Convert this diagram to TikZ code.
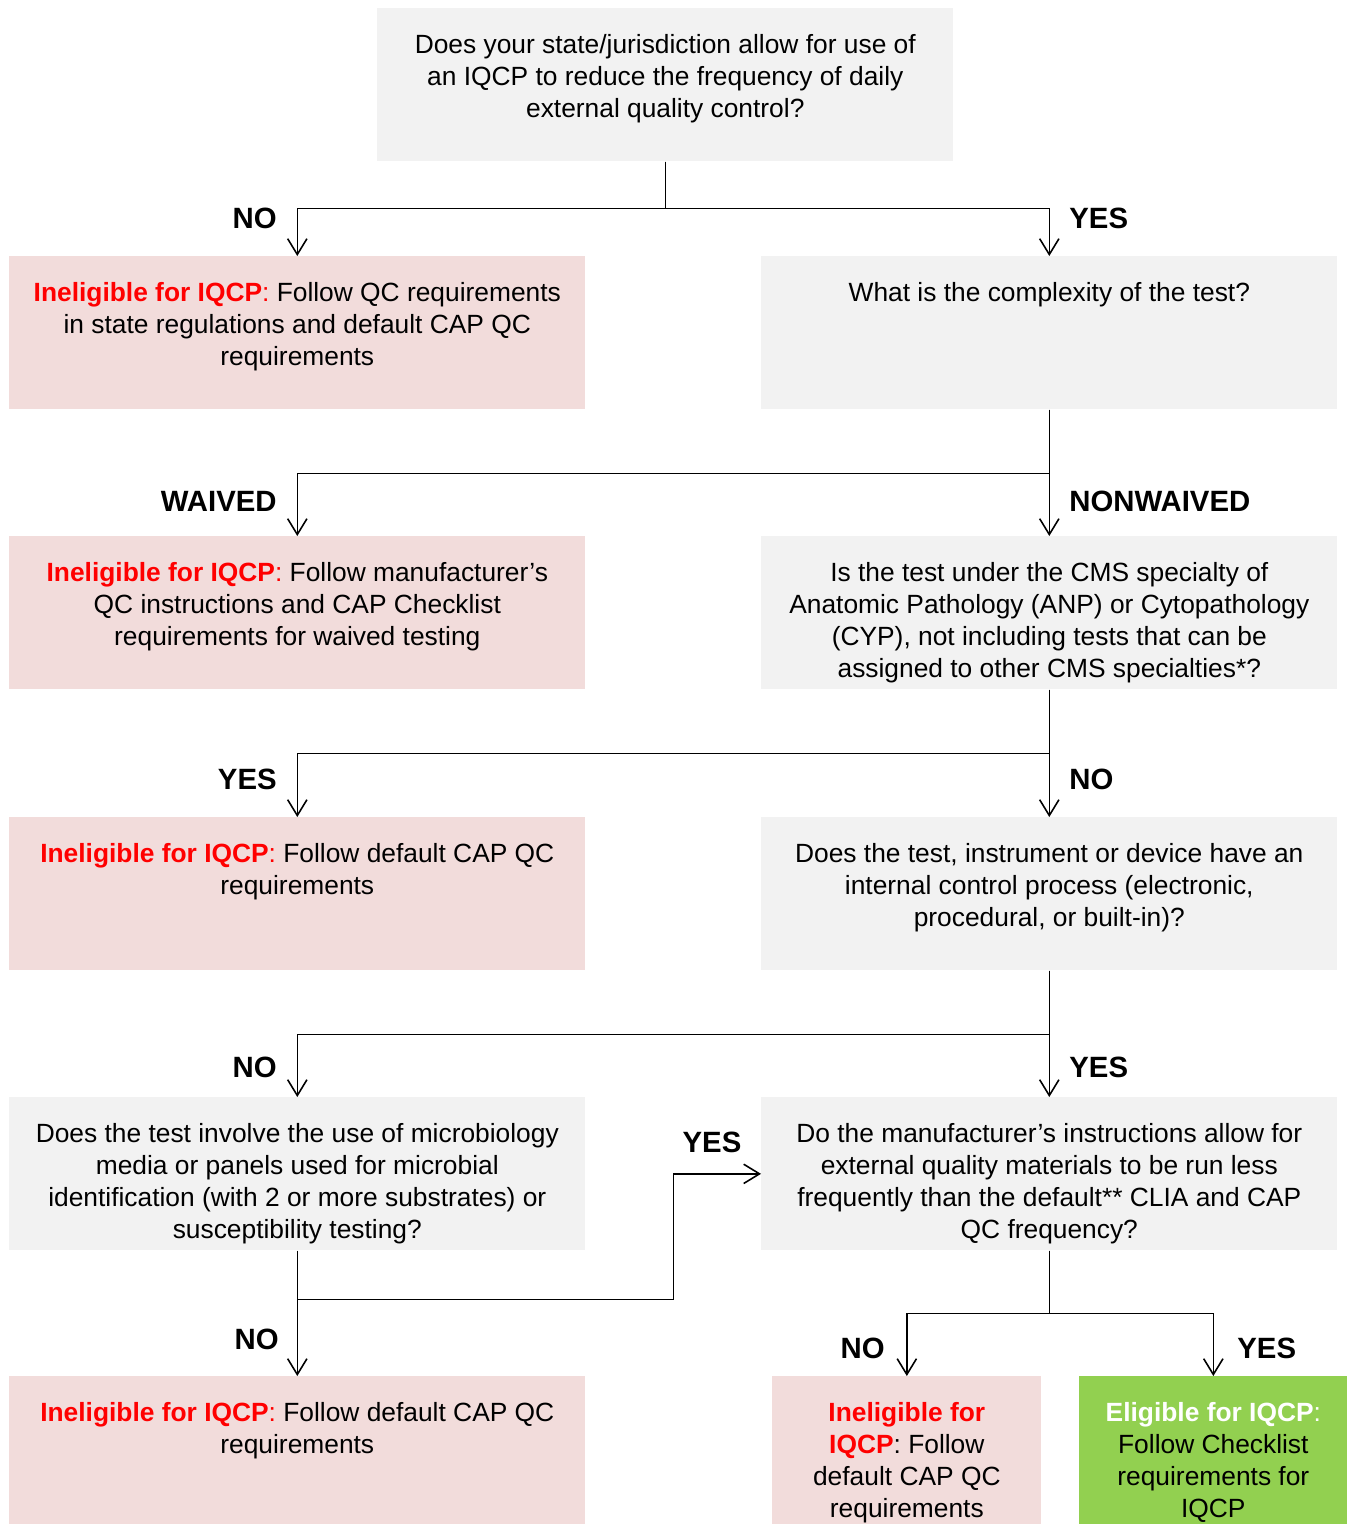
\documentclass[tikz,border=0pt]{standalone}
\usepackage{fontspec}
\setmainfont{Liberation Sans}
\usetikzlibrary{arrows.meta}
\definecolor{qgray}{HTML}{F2F2F2}
\definecolor{npink}{HTML}{F2DCDB}
\definecolor{egreen}{HTML}{92D050}
\newcommand{\boxtxt}[3]{\parbox[c][#2][t]{#1}{\centering\rule{0pt}{0.9cm}#3}}
\newcommand{\inel}{\textcolor{red}{\textbf{Ineligible for IQCP}:}}
\tikzstyle{block}=[anchor=north west, inner sep=0pt, font=\fontsize{15pt}{0.64cm}\selectfont]
\tikzstyle{question}=[block, fill=qgray]
\tikzstyle{nogo}=[block, fill=npink]
\tikzstyle{go}=[block, fill=egreen]
\tikzstyle{answer}=[inner sep=0pt, font=\fontsize{16.7pt}{19pt}\selectfont\bfseries]
\tikzstyle{flow}=[line width=0.9pt, -{Straight Barb[length=9pt, width=11pt]}]

\begin{document}
\begin{tikzpicture}[x=0.02cm, y=-0.02cm]
        \useasboundingbox (0,0) rectangle (1347,1524);
        \node[question] (Q1) at (377, 8)    {\boxtxt{11.52cm}{3.06cm}{Does your state/jurisdiction allow for use of\\an IQCP to reduce the frequency of daily\\external quality control?}};
        \node[nogo]     (N1) at (9, 256)    {\boxtxt{11.52cm}{3.06cm}{\inel{} Follow QC requirements\\in state regulations and default CAP QC\\requirements}};
        \node[question] (Q2) at (761, 256)  {\boxtxt{11.52cm}{3.06cm}{What is the complexity of the test?}};
        \node[nogo]     (N2) at (9, 536)    {\boxtxt{11.52cm}{3.06cm}{\inel{} Follow manufacturer’s\\QC instructions and CAP Checklist\\requirements for waived testing}};
        \node[question] (Q3) at (761, 536)  {\boxtxt{11.52cm}{3.06cm}{Is the test under the CMS specialty of\\Anatomic Pathology (ANP) or Cytopathology\\(CYP), not including tests that can be\\assigned to other CMS specialties*?}};
        \node[nogo]     (N3) at (9, 817)    {\boxtxt{11.52cm}{3.06cm}{\inel{} Follow default CAP QC\\requirements}};
        \node[question] (Q4) at (761, 817)  {\boxtxt{11.52cm}{3.06cm}{Does the test, instrument or device have an\\internal control process (electronic,\\procedural, or built-in)?}};
        \node[question] (Q5) at (9, 1097)   {\boxtxt{11.52cm}{3.06cm}{Does the test involve the use of microbiology\\media or panels used for microbial\\identification (with 2 or more substrates) or\\susceptibility testing?}};
        \node[question] (Q6) at (761, 1097) {\boxtxt{11.52cm}{3.06cm}{Do the manufacturer’s instructions allow for\\external quality materials to be run less\\frequently than the default** CLIA and CAP\\QC frequency?}};
        \node[nogo]     (N4) at (9, 1376)   {\boxtxt{11.52cm}{2.96cm}{\inel{} Follow default CAP QC\\requirements}};
        \node[nogo]     (N5) at (772, 1376) {\boxtxt{5.38cm}{2.96cm}{\textcolor{red}{\textbf{Ineligible for}}\\\textcolor{red}{\textbf{IQCP}}: Follow\\default CAP QC\\requirements}};
        \node[go]       (E1) at (1079, 1376) {\boxtxt{5.36cm}{2.96cm}{\textcolor{white}{\textbf{Eligible for IQCP}:}\\Follow Checklist\\requirements for\\IQCP}};
        \node[answer, anchor=east] (A1) at (277, 218)  {NO};
        \node[answer, anchor=west] (A2) at (1069, 218) {YES};
        \node[answer, anchor=east] (A3) at (277, 501)  {WAIVED};
        \node[answer, anchor=west] (A4) at (1069, 501) {NONWAIVED};
        \node[answer, anchor=east] (A5) at (277, 779)  {YES};
        \node[answer, anchor=west] (A6) at (1069, 779) {NO};
        \node[answer, anchor=east] (A7) at (277, 1067) {NO};
        \node[answer, anchor=west] (A8) at (1069, 1067) {YES};
        \node[answer]              (A9) at (712, 1142) {YES};
        \node[answer, anchor=east] (A10) at (279, 1339) {NO};
        \node[answer, anchor=east] (A11) at (885, 1348) {NO};
        \node[answer, anchor=west] (A12) at (1237, 1348) {YES};
        \draw[flow] (Q1.south) -- ++(0, 47) -| (N1.north);
        \draw[flow] (Q1.south) -- ++(0, 47) -| (Q2.north);
        \draw[flow] (Q2.south) -- ++(0, 64) -| (N2.north);
        \draw[flow] (Q2.south) -- (Q3.north);
        \draw[flow] (Q3.south) -- ++(0, 64) -| (N3.north);
        \draw[flow] (Q3.south) -- (Q4.north);
        \draw[flow] (Q4.south) -- ++(0, 64) -| (Q5.north);
        \draw[flow] (Q4.south) -- (Q6.north);
        \draw[flow] (Q5.south) -- (N4.north);
        \draw[flow] (Q5.south) ++(0, 49) -- ++(376, 0) |- (Q6.west);
        \draw[flow] (Q6.south) -- ++(0, 63) -| (N5.north);
        \draw[flow] (Q6.south) -- ++(0, 63) -| (E1.north);
    \end{tikzpicture}
\end{document}
